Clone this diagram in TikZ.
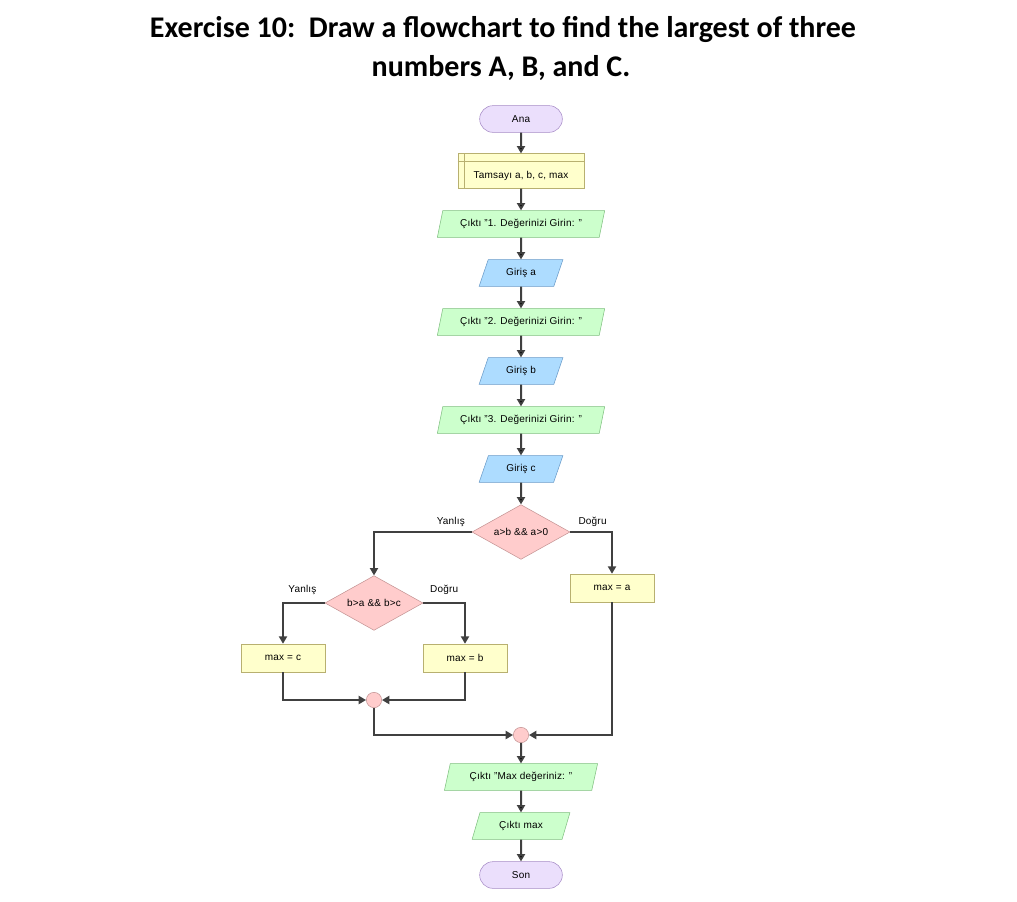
\documentclass[tikz,border=0pt]{standalone}
\usepackage{fontspec}
\setmainfont{Liberation Sans}[LetterSpace=2]
\newfontfamily\titlefont{Carlito}
\usetikzlibrary{shapes.geometric,shapes.misc,arrows.meta,positioning}

\definecolor{termfill}{HTML}{EBDFFC}
\definecolor{termline}{HTML}{A68AC6}
\definecolor{declfill}{HTML}{FFFFCC}
\definecolor{declline}{HTML}{B8B070}
\definecolor{outfill}{HTML}{CCFFCC}
\definecolor{outline}{HTML}{80BF80}
\definecolor{infill}{HTML}{ADDCFF}
\definecolor{inline}{HTML}{6A9BC8}
\definecolor{decfill}{HTML}{FFCCCC}
\definecolor{decline}{HTML}{C49494}
\definecolor{flowline}{HTML}{404040}

\begin{document}
\begin{tikzpicture}[x=0.75pt,y=-0.75pt,
  font=\fontsize{7.5}{9}\selectfont,
  term/.style={rounded rectangle, draw=termline, fill=termfill,
    minimum width=62pt, minimum height=20pt, inner sep=0pt},
  decl/.style={rectangle, draw=declline, fill=declfill,
    minimum width=94.5pt, minimum height=26pt, inner sep=0pt,
    text height=13pt, text depth=1.6pt},
  proc/.style={rectangle, draw=declline, fill=declfill,
    minimum width=63pt, minimum height=21pt, inner sep=0pt},
  io/.style={trapezium, trapezium left angle=66, trapezium right angle=114,
    trapezium stretches=true, minimum height=20pt, inner sep=0pt},
  outp/.style={io, draw=outline, fill=outfill},
  inp/.style={io, draw=inline, fill=infill},
  cond/.style={diamond, aspect=1.78, draw=decline, fill=decfill,
    minimum width=73.5pt, minimum height=41pt, inner sep=0pt},
  joint/.style={circle, draw=decline, fill=decfill, minimum size=11.5pt, inner sep=0pt},
  lbl/.style={inner sep=1pt},
  title/.style={font=\titlefont\bfseries\fontsize{22.5}{27}\selectfont},
  arr/.style={draw=flowline, line width=1.5pt,
    -{Triangle[length=5.5pt,width=6pt]}}
]
  \useasboundingbox (0,0) rectangle (1017,901);

  % title
  \node[title] (title1) at (503,29)
    {Exercise 10:\ \ Draw a flowchart to find the largest of three};
  \node[title] (title2) at (501,68) {numbers A, B, and C.};

  % main column
  \node[term] (ana) at (521,119) {Ana};
  \node[decl] (decl) at (521,171) {Tamsayı a, b, c, max};
  \draw[declline] ([xshift=5pt]decl.north west) -- ([xshift=5pt]decl.south west)
                  ([yshift=-6pt]decl.north west) -- ([yshift=-6pt]decl.north east);
  \node[outp, minimum width=126pt] (out1) at (521,224) {Çıktı "1. Değerinizi Girin: "};
  \node[inp, minimum width=63pt] (ina) at (521,273) {Giriş a};
  \node[outp, minimum width=126pt] (out2) at (521,322) {Çıktı "2. Değerinizi Girin: "};
  \node[inp, minimum width=63pt] (inb) at (521,371) {Giriş b};
  \node[outp, minimum width=126pt] (out3) at (521,420) {Çıktı "3. Değerinizi Girin: "};
  \node[inp, minimum width=63pt] (inc) at (521,469) {Giriş c};

  % decisions
  \node[cond] (d1) at (521,532) {a>b \&\& a>0};
  \node[cond] (d2) at (374,603) {b>a \&\& b>c};
  \node[proc] (maxa) at (612,588) {max = a};
  \node[proc] (maxc) at (283,658) {max = c};
  \node[proc] (maxb) at (465,658) {max = b};
  \node[joint] (j1) at (374,700) {};
  \node[joint] (j2) at (521,735) {};

  \node[lbl, above left=3pt and 4pt of d1.west] (no1) {Yanlış};
  \node[lbl, above right=3pt and 5pt of d1.east] (yes1) {Doğru};
  \node[lbl, above left=5pt and 5pt of d2.west] (no2) {Yanlış};
  \node[lbl, above right=5pt and 4pt of d2.east] (yes2) {Doğru};

  % end
  \node[outp, minimum width=115pt] (outmax) at (521,777) {Çıktı "Max değeriniz: "};
  \node[outp, minimum width=73.5pt] (outm) at (521,826) {Çıktı max};
  \node[term] (son) at (521,875) {Son};

  \path[arr]
    (ana) edge (decl)
    (decl) edge (out1)
    (out1) edge (ina)
    (ina) edge (out2)
    (out2) edge (inb)
    (inb) edge (out3)
    (out3) edge (inc)
    (inc) edge (d1)
    (j2) edge (outmax)
    (outmax) edge (outm)
    (outm) edge (son);

  \draw[arr] (d1.west) -| (d2.north);
  \draw[arr] (d1.east) -| (maxa.north);
  \draw[arr] (d2.west) -| (maxc.north);
  \draw[arr] (d2.east) -| (maxb.north);
  \draw[arr] (maxc.south) |- (j1.west);
  \draw[arr] (maxb.south) |- (j1.east);
  \draw[arr] (j1.south) |- (j2.west);
  \draw[arr] (maxa.south) |- (j2.east);
\end{tikzpicture}
\end{document}
